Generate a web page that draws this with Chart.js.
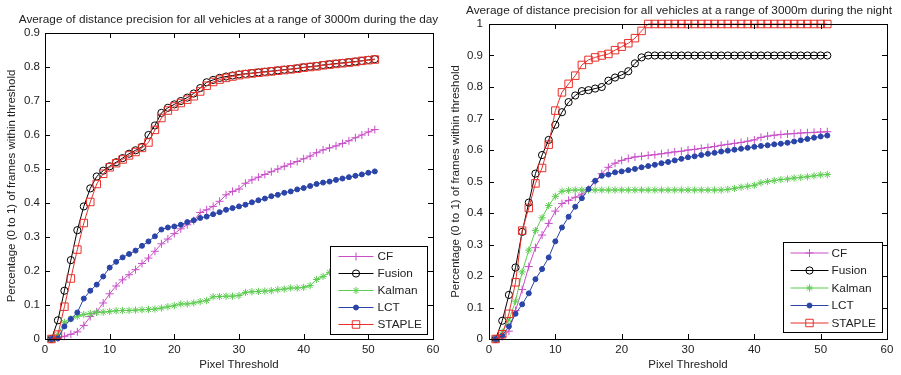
<!DOCTYPE html>
<html><head><meta charset="utf-8">
<script src="https://cdn.jsdelivr.net/npm/chart.js@4.4.1/dist/chart.umd.min.js"></script>
<style>
html,body{margin:0;padding:0;background:#fff;}
#wrap{position:relative;width:901px;height:375px;overflow:hidden;background:#fff;}
.box{position:absolute;top:0;height:375px;}
canvas{display:block;}
</style></head><body>
<div id="wrap">
<div class="box" style="left:0;width:450px"><canvas id="day" width="450" height="375"></canvas></div>
<div class="box" style="left:450px;width:451px"><canvas id="night" width="451" height="375"></canvas></div>
</div>
<script>
// ---------- data ----------
const thresholds = [1,2,3,4,5,6,7,8,9,10,11,12,13,14,15,16,17,18,19,20,21,22,23,24,25,26,27,28,29,30,31,32,33,34,35,36,37,38,39,40,41,42,43,44,45,46,47,48,49,50,51];
const seriesNames = ['CF','Fusion','Kalman','LCT','STAPLE'];

const dayCF = [0,0.003,0.008,0.014,0.021,0.04,0.066,0.08,0.106,0.133,0.156,0.174,0.189,0.204,0.222,0.238,0.258,0.28,0.294,0.31,0.324,0.336,0.348,0.372,0.38,0.39,0.405,0.424,0.434,0.441,0.458,0.468,0.476,0.484,0.492,0.5,0.508,0.515,0.522,0.53,0.538,0.548,0.556,0.562,0.568,0.575,0.583,0.592,0.6,0.609,0.616];
const dayFusion = [0,0.055,0.142,0.232,0.32,0.39,0.443,0.478,0.495,0.508,0.52,0.532,0.545,0.555,0.565,0.6,0.628,0.665,0.68,0.69,0.7,0.71,0.722,0.738,0.755,0.762,0.768,0.772,0.775,0.778,0.78,0.782,0.784,0.786,0.788,0.79,0.792,0.794,0.796,0.799,0.801,0.803,0.806,0.808,0.81,0.812,0.814,0.816,0.818,0.821,0.823];
const dayKalman = [0,0.013,0.049,0.059,0.067,0.072,0.075,0.078,0.079,0.081,0.083,0.084,0.084,0.085,0.086,0.087,0.088,0.091,0.095,0.098,0.103,0.103,0.106,0.11,0.113,0.124,0.125,0.126,0.126,0.128,0.137,0.139,0.14,0.141,0.142,0.145,0.147,0.15,0.15,0.152,0.157,0.175,0.184,0.196,0.205,0.212,0.218,0.224,0.23,0.236,0.242];
const dayLCT = [0,0.002,0.037,0.059,0.078,0.119,0.142,0.16,0.184,0.21,0.227,0.24,0.25,0.26,0.274,0.287,0.302,0.322,0.328,0.331,0.336,0.344,0.349,0.356,0.36,0.367,0.373,0.38,0.385,0.39,0.395,0.402,0.408,0.413,0.42,0.424,0.43,0.434,0.44,0.444,0.45,0.456,0.46,0.463,0.468,0.472,0.476,0.48,0.484,0.489,0.493];
const daySTAPLE = [0,0.013,0.095,0.178,0.263,0.341,0.403,0.456,0.486,0.505,0.517,0.528,0.54,0.55,0.562,0.578,0.615,0.65,0.672,0.684,0.694,0.704,0.714,0.728,0.745,0.756,0.763,0.768,0.772,0.776,0.779,0.781,0.783,0.785,0.787,0.789,0.791,0.793,0.795,0.798,0.8,0.802,0.805,0.807,0.809,0.811,0.813,0.815,0.818,0.82,0.822];

const nightCF = [0,0.008,0.025,0.09,0.157,0.23,0.29,0.33,0.367,0.406,0.43,0.44,0.45,0.46,0.475,0.5,0.525,0.545,0.558,0.567,0.573,0.578,0.58,0.583,0.585,0.588,0.591,0.594,0.596,0.6,0.602,0.605,0.608,0.611,0.615,0.618,0.621,0.624,0.628,0.632,0.64,0.644,0.647,0.649,0.651,0.652,0.654,0.655,0.656,0.657,0.658];
const nightFusion = [0,0.058,0.14,0.227,0.34,0.433,0.525,0.584,0.632,0.68,0.72,0.752,0.773,0.787,0.79,0.795,0.8,0.82,0.83,0.838,0.85,0.875,0.894,0.9,0.9,0.9,0.9,0.9,0.9,0.9,0.9,0.9,0.9,0.9,0.9,0.9,0.9,0.9,0.9,0.9,0.9,0.9,0.9,0.9,0.9,0.9,0.9,0.9,0.9,0.9,0.9];
const nightKalman = [0,0.022,0.06,0.12,0.213,0.282,0.344,0.385,0.424,0.453,0.469,0.472,0.473,0.473,0.473,0.473,0.473,0.473,0.473,0.473,0.473,0.473,0.473,0.473,0.473,0.473,0.473,0.473,0.473,0.473,0.473,0.473,0.473,0.473,0.473,0.475,0.478,0.482,0.485,0.488,0.496,0.5,0.503,0.506,0.508,0.511,0.513,0.515,0.518,0.521,0.522];
const nightLCT = [0,0.01,0.04,0.08,0.11,0.145,0.19,0.222,0.259,0.31,0.354,0.388,0.42,0.447,0.476,0.502,0.518,0.522,0.529,0.532,0.536,0.54,0.545,0.549,0.553,0.558,0.562,0.567,0.572,0.577,0.58,0.584,0.588,0.591,0.595,0.598,0.601,0.604,0.607,0.61,0.613,0.615,0.618,0.62,0.623,0.627,0.631,0.635,0.639,0.643,0.646];
const nightSTAPLE = [0,0.015,0.08,0.18,0.344,0.416,0.494,0.543,0.617,0.725,0.783,0.81,0.836,0.87,0.886,0.894,0.9,0.905,0.917,0.928,0.939,0.955,0.978,1,1,1,1,1,1,1,1,1,1,1,1,1,1,1,1,1,1,1,1,1,1,1,1,1,1,1,1];

const xTickValues = [0,10,20,30,40,50,60];
const yTickValuesDay = [0,0.1,0.2,0.3,0.4,0.5,0.6,0.7,0.8,0.9];
const yTickLabelsDay = ['0','0.1','0.2','0.3','0.4','0.5','0.6','0.7','0.8','0.9'];
const yTickValuesNight = [0,0.1,0.2,0.3,0.4,0.5,0.6,0.7,0.8,0.9,1];
const yTickLabelsNight = ['0','0.1','0.2','0.3','0.4','0.5','0.6','0.7','0.8','0.9','1'];

const titleDay = 'Average of distance precision for all vehicles at a range of 3000m during the day';
const titleNight = 'Average of distance precision for all vehicles at a range of 3000m during the night';
const xTitle = 'Pixel Threshold';
const yTitle = 'Percentage (0 to 1) of frames within threshold';

// ---------- styles ----------
const FONT = 'Liberation Sans, Arial, Helvetica, sans-serif';
const TXT = '#222';
const styles = [
  {color:'#c84ec8', pointStyle:'cross',  radius:4,   fill:'rgba(0,0,0,0)', order:5},
  {color:'#000000', pointStyle:'circle', radius:3.6, fill:'rgba(0,0,0,0)', order:4},
  {color:'#5ccc50', pointStyle:'star',   radius:3.6, fill:'rgba(0,0,0,0)', order:3},
  {color:'#2a44a8', pointStyle:'circle', radius:2.5, fill:'#2a44a8',       order:2},
  {color:'#e8302a', pointStyle:'rect',   radius:5.3, fill:'rgba(0,0,0,0)', order:1}
];

function makeDatasets(arrs){
  return arrs.map((vals,i)=>({
    label: seriesNames[i],
    data: thresholds.map((t,k)=>({x:t,y:vals[k]})),
    borderColor: styles[i].color,
    backgroundColor: styles[i].fill,
    pointBorderColor: styles[i].color,
    pointBackgroundColor: styles[i].fill,
    pointStyle: styles[i].pointStyle,
    pointRadius: styles[i].radius,
    pointHoverRadius: styles[i].radius,
    pointBorderWidth: 1,
    borderWidth: 1,
    tension: 0,
    order: styles[i].order,
    clip: false
  }));
}

// title + frame + inward ticks + legend box
const framePlugin = {
  id:'frame',
  afterDatasetsDraw(chart, args, opts){
    const ctx = chart.ctx, a = chart.chartArea;
    const xs = chart.scales.x, ys = chart.scales.y;
    ctx.save();
    // title
    ctx.fillStyle = TXT;
    ctx.font = opts.titleSize + 'px ' + FONT;
    ctx.textAlign = 'center';
    ctx.textBaseline = 'middle';
    ctx.fillText(opts.title, opts.titleX, opts.titleY);

    ctx.strokeStyle = '#000'; ctx.lineWidth = 1;
    ctx.strokeRect(Math.round(a.left)+0.5, Math.round(a.top)+0.5, Math.round(a.right-a.left), Math.round(a.bottom-a.top));
    const TL = 5;
    ctx.beginPath();
    xs.ticks.forEach(t=>{
      const p = Math.round(xs.getPixelForValue(t.value))+0.5;
      ctx.moveTo(p, a.bottom); ctx.lineTo(p, a.bottom-TL);
      ctx.moveTo(p, a.top); ctx.lineTo(p, a.top+TL);
    });
    ys.ticks.forEach(t=>{
      const p = Math.round(ys.getPixelForValue(t.value))+0.5;
      ctx.moveTo(a.left, p); ctx.lineTo(a.left+TL, p);
      ctx.moveTo(a.right, p); ctx.lineTo(a.right-TL, p);
    });
    ctx.stroke();

    // legend
    const L = opts.legend;
    const bx = Math.round(a.right - L.right - L.w) + 0.5;
    const by = Math.round(a.bottom - L.bottom - L.h) + 0.5;
    ctx.fillStyle = '#fff';
    ctx.fillRect(bx, by, L.w, L.h);
    ctx.strokeStyle = '#000'; ctx.lineWidth = 1;
    ctx.strokeRect(bx, by, L.w, L.h);
    ctx.font = '11.8px ' + FONT;
    ctx.textBaseline = 'middle';
    ctx.textAlign = 'left';
    chart.data.datasets.forEach((ds,i)=>{
      const y = by + L.first + i*L.step;
      const st = styles[i];
      ctx.strokeStyle = st.color;
      ctx.lineWidth = 1;
      ctx.beginPath();
      ctx.moveTo(bx + L.lx0, y); ctx.lineTo(bx + L.lx1, y);
      ctx.stroke();
      ctx.fillStyle = st.fill;
      Chart.helpers.drawPoint(ctx, {pointStyle: st.pointStyle, radius: st.radius, rotation:0, borderWidth:1}, bx + L.mx, y);
      ctx.fillStyle = TXT;
      ctx.fillText(ds.label, bx + L.tx, y + 0.5);
    });
    ctx.restore();
  }
};

function makeChart(id, arrs, title, yTicks, yLabels, yMax, cfg){
  return new Chart(document.getElementById(id), {
    type:'line',
    data:{ datasets: makeDatasets(arrs) },
    options:{
      responsive:false,
      devicePixelRatio:1,
      animation:false,
      events:[],
      layout:{ padding:{left:0, right:cfg.padRight, top:cfg.padTop, bottom:0} },
      plugins:{
        legend:{display:false},
        tooltip:{enabled:false},
        title:{display:false},
        frame: {title:title, titleSize:11.8, titleX:cfg.titleX, titleY:cfg.titleY, legend:cfg.legend}
      },
      scales:{
        x:{
          type:'linear', min:0, max:60,
          afterBuildTicks:s=>{ s.ticks = xTickValues.map(v=>({value:v})); },
          afterFit:s=>{ s.height = 36; },
          grid:{display:false, drawTicks:false},
          border:{display:false},
          ticks:{ color:TXT, font:{family:FONT, size:11.5}, padding:4, maxRotation:0, autoSkip:false,
            callback:(v)=>String(v) },
          title:{display:true, text:xTitle, color:TXT, font:{family:FONT, size:11.5, lineHeight:1.2}, padding:{top:0,bottom:3}}
        },
        y:{
          type:'linear', min:0, max:yMax,
          afterBuildTicks:s=>{ s.ticks = yTicks.map(v=>({value:v})); },
          afterFit:s=>{ s.width = cfg.yWidth; },
          grid:{display:false, drawTicks:false},
          border:{display:false},
          ticks:{ color:TXT, font:{family:FONT, size:11.5}, padding:cfg.yPad, autoSkip:false,
            callback:(v)=>{ const k = yTicks.indexOf(v); return k>=0 ? yLabels[k] : ''; } },
          title:{display:true, text:yTitle, color:TXT, font:{family:FONT, size:11.5, lineHeight:1.0}, padding:{top:cfg.yTitlePad, bottom:0}}
        }
      }
    },
    plugins:[framePlugin]
  });
}

makeChart('day', [dayCF, dayFusion, dayKalman, dayLCT, daySTAPLE], titleDay, yTickValuesDay, yTickLabelsDay, 0.9,
  {padRight:17, padTop:33, titleX:228.5, titleY:20, yWidth:45, yPad:5, yTitlePad:6.5,
   legend:{w:97, h:88, right:6, bottom:5, first:10, step:17, lx0:8, lx1:43, mx:25.5, tx:47}});
makeChart('night', [nightCF, nightFusion, nightKalman, nightLCT, nightSTAPLE], titleNight, yTickValuesNight, yTickLabelsNight, 1,
  {padRight:14, padTop:24, titleX:229, titleY:10.5, yWidth:39, yPad:6, yTitlePad:0,
   legend:{w:99, h:90, right:5, bottom:7, first:10.5, step:17.5, lx0:7, lx1:45, mx:26, tx:48}});
</script>
</body></html>
